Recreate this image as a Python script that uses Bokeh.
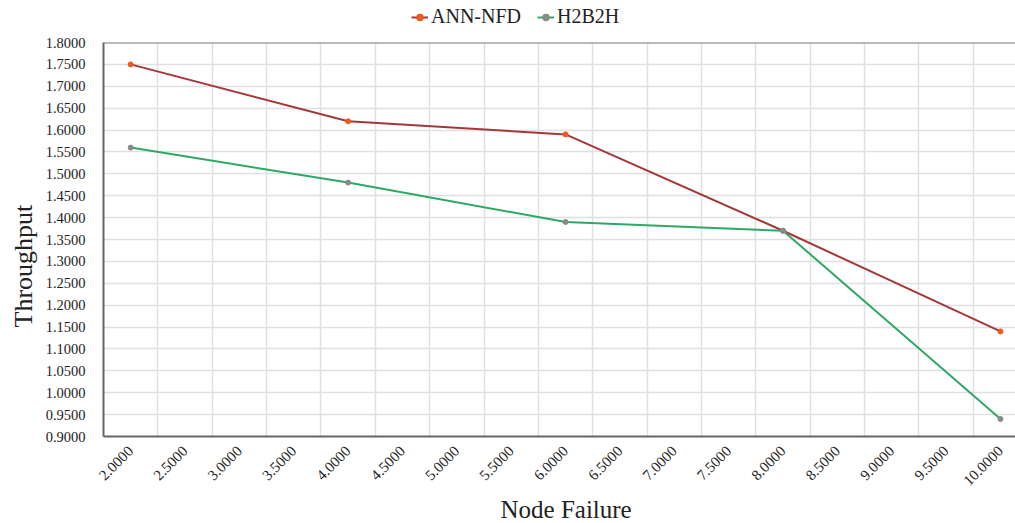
import math
from bokeh.plotting import figure
from bokeh.layouts import column
from bokeh.models import (Range1d, FixedTicker, NumeralTickFormatter, Span, Legend,
                          LegendItem, Title)
from bokeh.embed import file_html
from bokeh.resources import INLINE

# ---- data ----
node_failure = [2.0, 4.0, 6.0, 8.0, 10.0]
ann_nfd = [1.75, 1.62, 1.59, 1.37, 1.14]
h2b2h = [1.56, 1.48, 1.39, 1.37, 0.94]
x_ticks = [2.0, 2.5, 3.0, 3.5, 4.0, 4.5, 5.0, 5.5, 6.0, 6.5, 7.0, 7.5, 8.0, 8.5, 9.0, 9.5, 10.0]
y_ticks = [0.90, 0.95, 1.00, 1.05, 1.10, 1.15, 1.20, 1.25, 1.30, 1.35, 1.40, 1.45,
           1.50, 1.55, 1.60, 1.65, 1.70, 1.75, 1.80]
series_names = ["ANN-NFD", "H2B2H"]

FONT = "Liberation Serif"
ANN_LINE, ANN_MARK = "#a5373a", "#ec5a1e"
H2_LINE, H2_MARK = "#2ea866", "#8a8a8a"

# ---- legend strip (series drawn off-range; only the legend shows) ----
lg = figure(width=1015, height=32, output_backend="svg", toolbar_location=None,
            x_axis_type=None, y_axis_type=None, min_border=0,
            x_range=Range1d(-2, -1), y_range=Range1d(-2, -1))
lg.outline_line_color = None
lg.grid.visible = False
d1 = lg.line(node_failure, ann_nfd, line_color=ANN_LINE, line_width=2)
e1 = lg.scatter(node_failure, ann_nfd, size=5, fill_color=ANN_MARK, line_color=ANN_MARK)
d2 = lg.line(node_failure, h2b2h, line_color=H2_LINE, line_width=2)
e2 = lg.scatter(node_failure, h2b2h, size=5, fill_color=H2_MARK, line_color=H2_MARK)
legend = Legend(items=[LegendItem(label=series_names[0], renderers=[d1, e1]),
                       LegendItem(label=series_names[1], renderers=[d2, e2])],
                orientation="horizontal", location=(308, 4),
                glyph_width=17, glyph_height=20, label_standoff=3, spacing=16,
                padding=0, margin=0, border_line_color=None, background_fill_alpha=0,
                label_text_font=FONT, label_text_font_size="20px", label_text_color="#222222")
lg.add_layout(legend)

# ---- main chart ----
p = figure(width=1015, height=491, output_backend="svg", toolbar_location=None,
           x_range=Range1d(1.75, 10.138), y_range=Range1d(0.9, 1.8),
           min_border_left=103, min_border_right=0, min_border_top=10, min_border_bottom=87)
p.outline_line_color = None
p.background_fill_color = "white"

p.xaxis.ticker = FixedTicker(ticks=x_ticks)
p.xaxis.formatter = NumeralTickFormatter(format="0.0000")
p.xaxis.major_label_orientation = math.pi / 4
p.yaxis.ticker = FixedTicker(ticks=y_ticks)
p.yaxis.formatter = NumeralTickFormatter(format="0.0000")
for ax in (p.xaxis, p.yaxis):
    ax.major_tick_line_color = None
    ax.minor_tick_line_color = None
    ax.axis_line_color = "#666666"
    ax.axis_line_width = 2
    ax.major_label_text_font = FONT
    ax.major_label_text_color = "#222222"
p.yaxis.major_label_text_font_size = "14.5px"
p.xaxis.major_label_text_font_size = "15px"
p.yaxis.major_label_standoff = 12
p.xaxis.major_label_standoff = 6

half = (x_ticks[1] - x_ticks[0]) / 2
p.xgrid.ticker = FixedTicker(ticks=[t + half for t in x_ticks])
p.ygrid.ticker = FixedTicker(ticks=y_ticks)
for g in (p.xgrid, p.ygrid):
    g.grid_line_color = "#e0e0e0"
    g.grid_line_width = 1.5

p.add_layout(Span(location=1.8, dimension="width", line_color="#777777", line_width=2))

p.line(node_failure, ann_nfd, line_color=ANN_LINE, line_width=2)
p.scatter(node_failure, ann_nfd, size=5, fill_color=ANN_MARK, line_color=ANN_MARK)
p.line(node_failure, h2b2h, line_color=H2_LINE, line_width=2)
p.scatter(node_failure, h2b2h, size=5, fill_color=H2_MARK, line_color=H2_MARK)

p.add_layout(Title(text="Throughput", align="left", offset=109, text_font=FONT,
                   text_font_size="26px", text_font_style="normal", text_color="#222222",
                   standoff=10), "left")
p.add_layout(Title(text="Node Failure", align="left", offset=397, text_font=FONT,
                   text_font_size="25px", text_font_style="normal", text_color="#222222",
                   standoff=0), "below")

layout = column(lg, p, spacing=0)
open("out.html", "w").write(file_html(layout, INLINE))
